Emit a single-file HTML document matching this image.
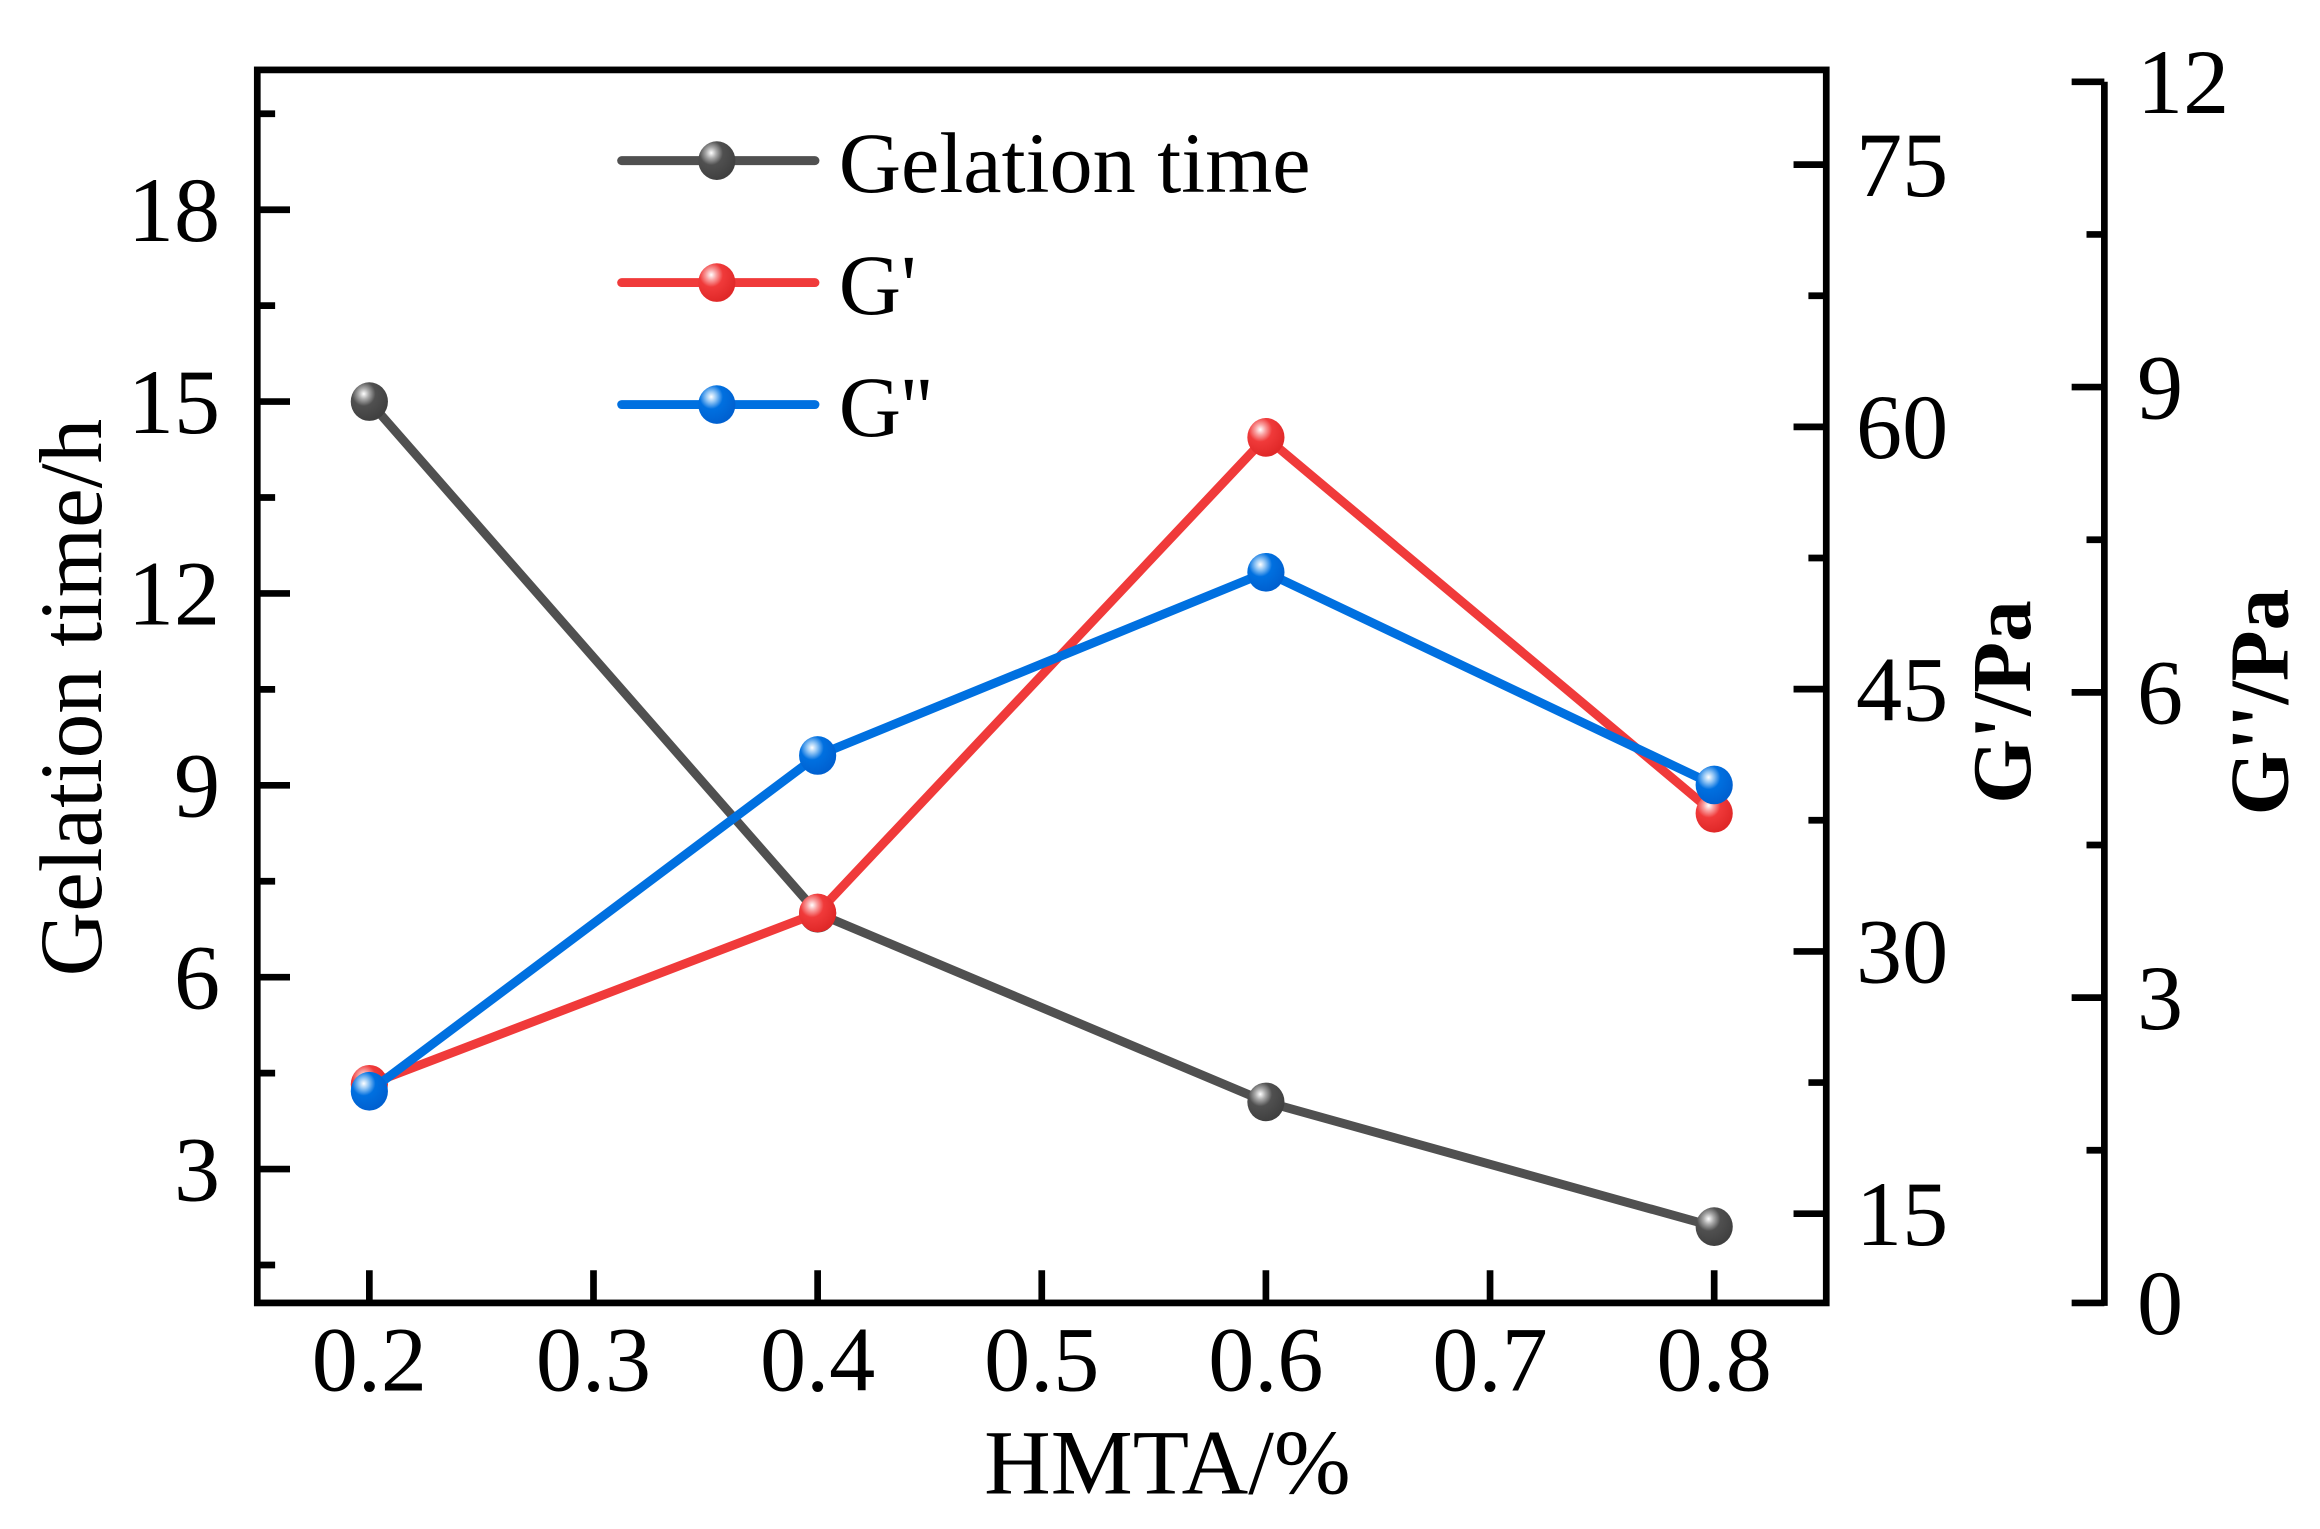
<!DOCTYPE html>
<html><head><meta charset="utf-8"><style>
html,body{margin:0;padding:0;background:#fff;}
svg{display:block;}
text{font-family:"Liberation Serif",serif;fill:#000;}
</style></head><body>
<svg id="chart" width="2320" height="1529" viewBox="0 0 1560 1028" preserveAspectRatio="none" xmlns="http://www.w3.org/2000/svg">
<defs>
<radialGradient id="gGray" cx="0.35" cy="0.3" r="0.7"><stop offset="0" stop-color="#fff"/><stop offset="0.2" stop-color="#aaa"/><stop offset="0.45" stop-color="#505050"/><stop offset="1" stop-color="#404040"/></radialGradient>
<radialGradient id="gRed" cx="0.35" cy="0.3" r="0.7"><stop offset="0" stop-color="#fff"/><stop offset="0.2" stop-color="#f9a0a0"/><stop offset="0.45" stop-color="#f03a3a"/><stop offset="1" stop-color="#e02828"/></radialGradient>
<radialGradient id="gBlue" cx="0.35" cy="0.3" r="0.7"><stop offset="0" stop-color="#fff"/><stop offset="0.2" stop-color="#90c4f4"/><stop offset="0.45" stop-color="#0070e0"/><stop offset="1" stop-color="#0060d0"/></radialGradient>
</defs>
<g id="layer"></g>
</svg>
<script>
const xValues=[0.2,0.4,0.6,0.8];
const gelationTime=[15.0,7.0,4.05,2.1];
const gPrime=[22.4,32.2,59.4,37.9];
const gDouble=[2.08,5.38,7.18,5.09];
const xTicks=[0.2,0.3,0.4,0.5,0.6,0.7,0.8];
const leftTicks=[3,6,9,12,15,18];
const gpTicks=[15,30,45,60,75];
const gdpTicks=[0,3,6,9,12];

const NS="http://www.w3.org/2000/svg";
const L=document.getElementById('layer');
const PL=173,PR=1228,PT=47,PB=876;
const X=v=>PL+(v-0.15)/(0.7)*(PR-PL);
const YL=v=>786-(v-3)*43;
const YG=v=>816-(v-15)*(529/45);
const YD=v=>876-v*(821/12);
function mk(tag,attrs,parent){const e=document.createElementNS(NS,tag);for(const k in attrs)e.setAttribute(k,attrs[k]);(parent||L).appendChild(e);return e;}
function txt(s,attrs){const e=mk('text',attrs);e.textContent=s;return e;}

const fr=mk('rect',{x:PL,y:PT,width:PR-PL,height:PB-PT,fill:'none',stroke:'#000','stroke-width':4.5});


xTicks.forEach(t=>{const x=X(t);
 mk('line',{x1:x,y1:PB,x2:x,y2:PB-22,stroke:'#000','stroke-width':4.5});
 const e=txt(t.toFixed(1),{x:x,y:935,'font-size':62,'text-anchor':'middle'});
 
 
});
for(let v=1.5;v<=19.5;v+=1.5){const y=YL(v);const major=leftTicks.includes(v);
 mk('line',{x1:PL,y1:y,x2:PL+(major?22:12),y2:y,stroke:'#000','stroke-width':4.5});}
leftTicks.forEach(t=>{const e=txt(String(t),{x:148,y:YL(t)+21,'font-size':62,'text-anchor':'end'});
 
 });
for(let v=7.5;v<=80;v+=7.5){const y=YG(v);if(y<PT+2||y>PB-2)continue;const major=gpTicks.includes(v);
 mk('line',{x1:PR,y1:y,x2:PR-(major?22:12),y2:y,stroke:'#000','stroke-width':4.5});}
gpTicks.forEach(t=>{const e=txt(String(t),{x:1248,y:YG(t)+21,'font-size':62});
 
 });
const ax3=mk('line',{x1:1415,y1:55,x2:1415,y2:PB+2,stroke:'#000','stroke-width':4.5});


for(let v=0;v<=12;v+=1.5){const y=YD(v);const major=gdpTicks.includes(v);
 mk('line',{x1:1415,y1:y,x2:1415-(major?22:12),y2:y,stroke:'#000','stroke-width':4.5});}
gdpTicks.forEach(t=>{const e=txt(String(t),{x:1437,y:YD(t)+21,'font-size':62});
 
 });
let t1=txt('HMTA/%',{x:785,y:1004,'font-size':62,'text-anchor':'middle'});


let t2=txt('Gelation time/h',{x:0,y:0,'font-size':60,'text-anchor':'middle',transform:'translate(68,469) rotate(-90)'});


let t3=txt("G'/Pa",{x:0,y:0,'font-size':56,'font-weight':'bold','text-anchor':'middle',transform:'translate(1365,472) rotate(-90)'});


let t4=txt("G''/Pa",{x:0,y:0,'font-size':56,'font-weight':'bold','text-anchor':'middle',transform:'translate(1538,472) rotate(-90)'});



function series(vals,yf,color,grad,name){
 const pts=vals.map((v,i)=>X(xValues[i])+','+yf(v)).join(' ');
 const pl=mk('polyline',{points:pts,fill:'none',stroke:color,'stroke-width':6,'stroke-linejoin':'round'});
 
 
 vals.forEach((v,i)=>{const c=mk('ellipse',{cx:X(xValues[i]),cy:yf(v),rx:12.5,ry:13,fill:'url(#'+grad+')'});
  
  });
}
series(gelationTime,YL,'#505050','gGray','gelation-time');
series(gPrime,YG,'#f03a3a','gRed','gprime');
series(gDouble,YD,'#0070e0','gBlue','gdouble');

const leg=[['Gelation time','#505050','gGray',108],["G'",'#f03a3a','gRed',190],["G''",'#0070e0','gBlue',272]];
leg.forEach(([lab,col,g,y])=>{
 const ln=mk('line',{x1:418,y1:y,x2:548,y2:y,stroke:col,'stroke-width':6,'stroke-linecap':'round'});
 
 
 mk('ellipse',{cx:482,cy:y,rx:12.5,ry:13,fill:'url(#'+g+')'});
 const e=txt(lab,{x:564,y:y+21,'font-size':58});
 
 
});
</script>
</body></html>
